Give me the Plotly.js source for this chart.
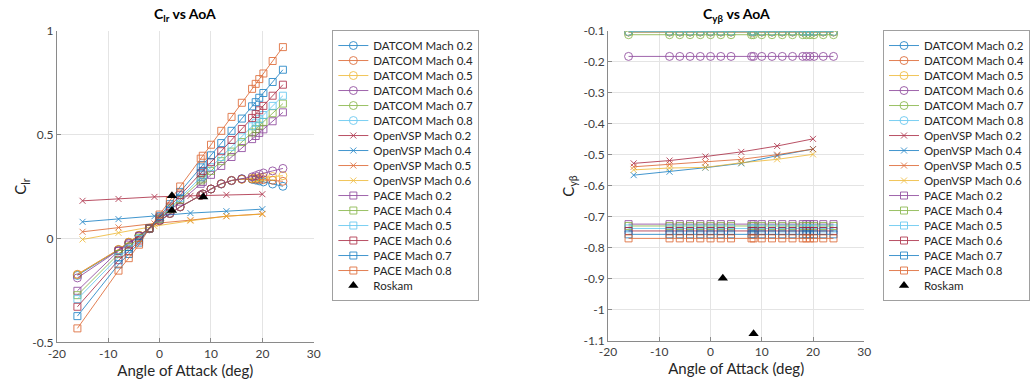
<!DOCTYPE html>
<html><head><meta charset="utf-8">
<script src="https://cdn.plot.ly/plotly-3.0.1.min.js"></script>
<style>html,body{margin:0;padding:0;background:#fff}#chart{width:1030px;height:385px}</style>
</head><body><div id="chart"></div>
<script>
// ---- colours (MATLAB default order) ----
const palette = ['#0072BD','#D95319','#EDB120','#7E2F8E','#77AC30','#4DBEEE','#A2142F'];

// ---- angle of attack sets ----
const alphaDatcom = [-16,-8,-6,-4,-2,0,2,4,8,8.4,10,12,14,16,18,18.7,19.4,20.2,22,24];
const alphaPace   = [-16,-8,-6,-4,-2,0,2,4,8,8.4,10,12,14,16,18,18.7,19.4,20.2,22,24];
const alphaVsp    = [-15,-8,-1,6,13,20];
const alphaRoskamClr = [2.4,2.4,8.5];
const alphaRoskamCy  = [2.4,8.4];

// ---- series names ----
const datcomNames = ['DATCOM Mach 0.2','DATCOM Mach 0.4','DATCOM Mach 0.5','DATCOM Mach 0.6','DATCOM Mach 0.7','DATCOM Mach 0.8'];
const vspNames    = ['OpenVSP Mach 0.2','OpenVSP Mach 0.4','OpenVSP Mach 0.5','OpenVSP Mach 0.6'];
const paceNames   = ['PACE Mach 0.2','PACE Mach 0.4','PACE Mach 0.5','PACE Mach 0.6','PACE Mach 0.7','PACE Mach 0.8'];
const roskamName  = 'Roskam';

// ---- C_lr values ----
const clrDatcom02 = [-0.178,-0.055,-0.020,0.014,0.048,0.086,0.120,0.152,0.207,0.214,0.238,0.262,0.278,0.287,0.285,0.281,0.277,0.272,0.262,0.251];
const clrDatcom04 = [-0.173,-0.053,-0.018,0.015,0.048,0.086,0.120,0.152,0.207,0.214,0.238,0.263,0.279,0.285,0.286,0.285,0.284,0.283,0.280,0.275];
const clrDatcom05 = [-0.174,-0.054,-0.019,0.015,0.048,0.086,0.120,0.152,0.207,0.214,0.238,0.263,0.279,0.285,0.289,0.291,0.293,0.295,0.298,0.302];
const clrDatcom06 = [-0.190,-0.060,-0.024,0.012,0.046,0.085,0.120,0.152,0.207,0.214,0.238,0.263,0.279,0.287,0.296,0.302,0.309,0.315,0.325,0.337];
const clrDatcom07 = [];
const clrDatcom08 = [];

const clrVsp02 = [0.181,0.190,0.200,0.205,0.210,0.213];
const clrVsp04 = [0.080,0.093,0.107,0.122,0.131,0.141];
const clrVsp05 = [0.032,0.053,0.072,0.088,0.107,0.118];
const clrVsp06 = [-0.005,0.027,0.059,0.085,0.107,0.117];

const clrPace02 = [-0.252,-0.060,-0.030,0.010,0.048,0.091,0.134,0.177,0.263,0.272,0.306,0.349,0.392,0.435,0.478,0.493,0.508,0.525,0.564,0.607];
const clrPace04 = [-0.273,-0.075,-0.040,0.003,0.048,0.094,0.140,0.187,0.279,0.288,0.325,0.372,0.418,0.464,0.510,0.526,0.543,0.561,0.603,0.649];
const clrPace05 = [-0.292,-0.090,-0.050,-0.003,0.048,0.097,0.146,0.195,0.294,0.304,0.343,0.392,0.441,0.490,0.540,0.557,0.574,0.594,0.638,0.687];
const clrPace06 = [-0.329,-0.105,-0.062,-0.010,0.048,0.101,0.154,0.208,0.314,0.325,0.367,0.420,0.474,0.527,0.580,0.599,0.617,0.638,0.687,0.740];
const clrPace07 = [-0.374,-0.125,-0.075,-0.020,0.048,0.107,0.165,0.224,0.342,0.354,0.400,0.459,0.518,0.577,0.636,0.656,0.677,0.700,0.753,0.812];
const clrPace08 = [-0.433,-0.155,-0.095,-0.030,0.048,0.115,0.182,0.250,0.384,0.398,0.451,0.518,0.585,0.653,0.720,0.744,0.767,0.794,0.854,0.921];

const clrRoskam = [0.205,0.135,0.200];

// ---- C_y_beta values ----
const cyDatcom02 = [-0.103,-0.103,-0.103,-0.103,-0.103,-0.103,-0.103,-0.103,-0.103,-0.103,-0.103,-0.103,-0.103,-0.103,-0.103,-0.103,-0.103,-0.103,-0.103,-0.103];
const cyDatcom04 = [-0.103,-0.103,-0.103,-0.103,-0.103,-0.103,-0.103,-0.103,-0.103,-0.103,-0.103,-0.103,-0.103,-0.103,-0.103,-0.103,-0.103,-0.103,-0.103,-0.103];
const cyDatcom05 = [-0.103,-0.103,-0.103,-0.103,-0.103,-0.103,-0.103,-0.103,-0.103,-0.103,-0.103,-0.103,-0.103,-0.103,-0.103,-0.103,-0.103,-0.103,-0.103,-0.103];
const cyDatcom06 = [-0.182,-0.182,-0.182,-0.182,-0.182,-0.182,-0.182,-0.182,-0.182,-0.182,-0.182,-0.182,-0.182,-0.182,-0.182,-0.182,-0.182,-0.182,-0.182,-0.182];
const cyDatcom07 = [-0.112,-0.112,-0.112,-0.112,-0.112,-0.112,-0.112,-0.112,-0.112,-0.112,-0.112,-0.112,-0.112,-0.112,-0.112,-0.112,-0.112,-0.112,-0.112,-0.112];
const cyDatcom08 = [-0.102,-0.102,-0.102,-0.102,-0.102,-0.102,-0.102,-0.102,-0.102,-0.102,-0.102,-0.102,-0.102,-0.102,-0.102,-0.102,-0.102,-0.102,-0.102,-0.102];

const cyVsp02 = [-0.527,-0.518,-0.505,-0.490,-0.471,-0.448];
const cyVsp04 = [-0.565,-0.554,-0.541,-0.527,-0.502,-0.481];
const cyVsp05 = [-0.538,-0.530,-0.524,-0.514,-0.499,-0.481];
const cyVsp06 = [-0.548,-0.542,-0.540,-0.525,-0.514,-0.498];

const cyPace02 = [-0.723,-0.723,-0.723,-0.723,-0.723,-0.723,-0.723,-0.723,-0.723,-0.723,-0.723,-0.723,-0.723,-0.723,-0.723,-0.723,-0.723,-0.723,-0.723,-0.723];
const cyPace04 = [-0.729,-0.729,-0.729,-0.729,-0.729,-0.729,-0.729,-0.729,-0.729,-0.729,-0.729,-0.729,-0.729,-0.729,-0.729,-0.729,-0.729,-0.729,-0.729,-0.729];
const cyPace05 = [-0.737,-0.737,-0.737,-0.737,-0.737,-0.737,-0.737,-0.737,-0.737,-0.737,-0.737,-0.737,-0.737,-0.737,-0.737,-0.737,-0.737,-0.737,-0.737,-0.737];
const cyPace06 = [-0.745,-0.745,-0.745,-0.745,-0.745,-0.745,-0.745,-0.745,-0.745,-0.745,-0.745,-0.745,-0.745,-0.745,-0.745,-0.745,-0.745,-0.745,-0.745,-0.745];
const cyPace07 = [-0.756,-0.756,-0.756,-0.756,-0.756,-0.756,-0.756,-0.756,-0.756,-0.756,-0.756,-0.756,-0.756,-0.756,-0.756,-0.756,-0.756,-0.756,-0.756,-0.756];
const cyPace08 = [-0.769,-0.769,-0.769,-0.769,-0.769,-0.769,-0.769,-0.769,-0.769,-0.769,-0.769,-0.769,-0.769,-0.769,-0.769,-0.769,-0.769,-0.769,-0.769,-0.769];

const cyRoskam = [-0.898,-1.077];

// ---- tick labels ----
const xTickVals = [-20,-10,0,10,20,30];
const xTickText = ['-20','-10','0','10','20','30'];
const clrTickVals = [-0.5,0,0.5,1];
const clrTickText = ['-0.5','0','0.5','1'];
const cyTickVals = [-1.1,-1,-0.9,-0.8,-0.7,-0.6,-0.5,-0.4,-0.3,-0.2,-0.1];
const cyTickText = ['-1.1','-1','-0.9','-0.8','-0.7','-0.6','-0.5','-0.4','-0.3','-0.2','-0.1'];

// ---- build traces ----
const FONT = 'Lato, "Open Sans", sans-serif';
function series(x, y, name, color, symbol, msize, xa, ya, leg) {
  return {
    type: 'scatter', mode: 'lines+markers', x: x, y: y, name: name,
    xaxis: xa, yaxis: ya, legend: leg, opacity: 0.82,
    line: {color: color, width: 0.9},
    marker: {symbol: symbol, size: msize, color: color, line: {color: color, width: 0.9}},
    hoverinfo: 'skip'
  };
}
function roskam(x, y, xa, ya, leg) {
  return {
    type: 'scatter', mode: 'markers', x: x, y: y, name: roskamName,
    xaxis: xa, yaxis: ya, legend: leg,
    marker: {symbol: 'triangle-up', size: 9, color: '#000000'},
    hoverinfo: 'skip'
  };
}
function buildPanel(datcom, vsp, pace, ros, rosX, xa, ya, leg) {
  const tr = [];
  let c = 0;
  datcom.forEach((y, i) => { tr.push(series(alphaDatcom.slice(0, y.length), y, datcomNames[i], palette[c % 7], 'circle-open', 8, xa, ya, leg)); c++; });
  vsp.forEach((y, i) => { tr.push(series(alphaVsp, y, vspNames[i], palette[c % 7], 'x-thin-open', 6, xa, ya, leg)); c++; });
  pace.forEach((y, i) => { tr.push(series(alphaPace, y, paceNames[i], palette[c % 7], 'square-open', 7, xa, ya, leg)); c++; });
  tr.push(roskam(rosX, ros, xa, ya, leg));
  return tr;
}
const data = [].concat(
  buildPanel([clrDatcom02,clrDatcom04,clrDatcom05,clrDatcom06,clrDatcom07,clrDatcom08],
             [clrVsp02,clrVsp04,clrVsp05,clrVsp06],
             [clrPace02,clrPace04,clrPace05,clrPace06,clrPace07,clrPace08],
             clrRoskam, alphaRoskamClr, 'x', 'y', 'legend'),
  buildPanel([cyDatcom02,cyDatcom04,cyDatcom05,cyDatcom06,cyDatcom07,cyDatcom08],
             [cyVsp02,cyVsp04,cyVsp05,cyVsp06],
             [cyPace02,cyPace04,cyPace05,cyPace06,cyPace07,cyPace08],
             cyRoskam, alphaRoskamCy, 'x2', 'y2', 'legend2')
);
// series with no visible C_lr data still appear in the legend
data.forEach(t => { if (t.y.length === 0) { t.x = [null]; t.y = [null]; } });

const axisLine = '#8a8a8a';
const gridC = '#e4e4e4';
function xAxis(domain, anchor) {
  return {
    domain: domain, anchor: anchor, range: [-20, 30],
    tickvals: xTickVals, ticktext: xTickText,
    showline: true, linecolor: axisLine, linewidth: 1, mirror: false,
    ticks: 'inside', ticklen: 4, tickcolor: axisLine,
    showgrid: true, gridcolor: gridC, gridwidth: 1, zeroline: false,
    tickfont: {family: FONT, size: 12, color: '#404040'},
    title: {text: 'Angle of Attack (deg)', font: {family: FONT, size: 15, color: '#262626'}, standoff: 4}
  };
}
function yAxis(domain, anchor, range, tv, tt, title, standoff) {
  return {
    domain: domain, anchor: anchor, range: range,
    tickvals: tv, ticktext: tt,
    showline: true, linecolor: axisLine, linewidth: 1, mirror: false,
    ticks: 'inside', ticklen: 4, tickcolor: axisLine,
    showgrid: true, gridcolor: gridC, gridwidth: 1, zeroline: false,
    tickfont: {family: FONT, size: 12, color: '#404040'},
    title: {text: title, font: {family: FONT, size: 15, color: '#262626'}, standoff: standoff}
  };
}

const legendFont = {family: FONT, size: 11.5, color: '#262626'};
const layout = {
  width: 1030, height: 385,
  margin: {l: 0, r: 0, t: 0, b: 0},
  paper_bgcolor: '#ffffff', plot_bgcolor: '#ffffff',
  font: {family: FONT, color: '#262626'},
  showlegend: true,
  xaxis: xAxis([0.0553, 0.3052], 'y'),
  yaxis: yAxis([0.1109, 0.9203], 'x', [-0.5, 1], clrTickVals, clrTickText, 'C<sub>lr</sub>', 1),
  xaxis2: xAxis([0.5915, 0.8407], 'y2'),
  yaxis2: yAxis([0.1143, 0.9195], 'x2', [-1.1, -0.1], cyTickVals, cyTickText, 'C<sub>yβ</sub>', 5),
  legend: {x: 0.3233, y: 0.922, xanchor: 'left', yanchor: 'top', bgcolor: '#ffffff',
           bordercolor: '#a0a0a0', borderwidth: 1, font: legendFont,
           itemclick: false, itemdoubleclick: false},
  legend2: {x: 0.8592, y: 0.922, xanchor: 'left', yanchor: 'top', bgcolor: '#ffffff',
           bordercolor: '#a0a0a0', borderwidth: 1, font: legendFont,
           itemclick: false, itemdoubleclick: false},
  annotations: [
    {text: '<b>C<sub>lr</sub> vs AoA</b>', xref: 'paper', yref: 'paper', x: 0.1802, y: 0.963,
     xanchor: 'center', yanchor: 'middle', showarrow: false, font: {family: FONT, size: 14, color: '#000000'}},
    {text: '<b>C<sub>yβ</sub> vs AoA</b>', xref: 'paper', yref: 'paper', x: 0.7161, y: 0.963,
     xanchor: 'center', yanchor: 'middle', showarrow: false, font: {family: FONT, size: 14, color: '#000000'}}
  ]
};

function tightenLegend(gd, cls, step) {
  const lg = gd.querySelector('g.' + cls);
  if (!lg) return;
  const items = Array.from(lg.querySelectorAll('g.traces'));
  if (items.length < 2) return;
  const pos = items.map(it => {
    const m = /translate\(\s*([-\d.e]+)[\s,]+([-\d.e]+)\s*\)/.exec(it.getAttribute('transform') || '');
    return m ? [parseFloat(m[1]), parseFloat(m[2])] : null;
  });
  if (pos.some(p => p === null)) return;
  const origStep = pos[1][1] - pos[0][1];
  items.forEach((it, i) => {
    it.setAttribute('transform', 'translate(' + pos[i][0] + ',' + (pos[0][1] + i * step) + ')');
  });
  const bg = lg.querySelector('rect.bg');
  if (bg) {
    const h = parseFloat(bg.getAttribute('height'));
    bg.setAttribute('height', h - (items.length - 1) * (origStep - step));
  }
}

Plotly.newPlot('chart', data, layout, {displayModeBar: false, staticPlot: true}).then(gd => {
  tightenLegend(gd, 'legend', 15);
  tightenLegend(gd, 'legend2', 15);
});
</script>
</body></html>
